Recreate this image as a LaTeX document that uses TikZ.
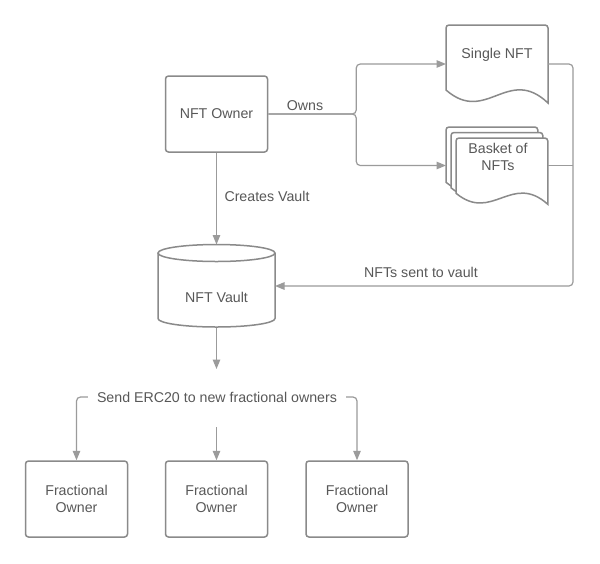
\documentclass[tikz,border=0pt]{standalone}
\usepackage{fontspec}
\setmainfont{Liberation Sans}
\usetikzlibrary{arrows.meta}

\definecolor{linegray}{RGB}{155,155,155}
\definecolor{boxgray}{RGB}{138,138,138}
\definecolor{textgray}{RGB}{88,88,88}

\tikzset{
  frame/.style={draw=boxgray, line width=1.5pt, fill=white},
  box/.style={frame, rounded corners=3pt, minimum width=102pt, minimum height=76pt,
    inner sep=0pt, align=center, text=textgray},
  spot/.style={inner sep=0pt, outer sep=0pt},
  lbl/.style={text=textgray, align=center},
  conn/.style={draw=linegray, line width=1.2pt, rounded corners=4pt},
  arr/.style={conn, -{Triangle[width=7.5pt,length=9.5pt]}}
}

% document page: left, top, xscale, yscale
\newcommand{\docpage}[4]{%
  \draw[frame, shift={(#1,#2)}, xscale=#3, yscale=#4]
    (0,65) [rounded corners=3pt] -- (0,0) -- (102,0) -- (102,30) [sharp corners] -- (102,78)
    .. controls (62,40) and (40,100) .. (0,65) -- cycle;}

\begin{document}
\begin{tikzpicture}[x=1pt, y=-1pt, font=\fontsize{14.2}{17}\selectfont]
        \fill[white] (0,0) rectangle (600,563);
        \useasboundingbox (0,0) rectangle (600,563);

        % Owner
        \node[box] (owner) at (216.5,114) {NFT Owner};

        % Single NFT
        \docpage{446}{25}{1}{1}
        \node[spot, minimum width=102pt, minimum height=78pt] (single) at (497,64) {};
        \node[lbl] (singletxt) at (497,55) {Single NFT};

        % Basket of NFTs
        \docpage{446}{127}{0.9}{0.85}
        \docpage{451}{132.5}{0.9}{0.85}
        \docpage{456}{138}{0.9}{0.85}
        \node[spot, minimum width=102pt, minimum height=77pt] (basket) at (497,165.5) {};
        \node[lbl] (baskettxt) at (498,156.5) {Basket of\\NFTs};

        % Vault
        \draw[frame] (158,253) -- (158,318.5)
          arc[start angle=180, end angle=360, x radius=58.5pt, y radius=8.5pt] -- (275,253);
        \draw[frame] (216.5,253) ellipse [x radius=58.5pt, y radius=8.5pt];
        \node[spot, minimum width=117pt, minimum height=83pt] (vault) at (216.5,286) {};
        \node[lbl] (vaulttxt) at (216.5,297) {NFT Vault};

        % Fractional owners
        \node[box] (frac1) at (76.5,499) {Fractional\\Owner};
        \node[box] (frac2) at (216.5,499) {Fractional\\Owner};
        \node[box] (frac3) at (357,499) {Fractional\\Owner};

        % Connectors
        \draw[arr] (owner.east) -- ++(88,0) |- (single.west);
        \draw[arr] (owner.east) -- ++(88,0) |- (basket.west);
        \node[lbl] (owns) at (305,106) {Owns};

        \draw[arr] (owner) -- (vault);
        \node[lbl] (creates) at (267,196) {Creates Vault};

        \draw[arr] (single.east) -- ++(25,0) |- (vault.east);
        \draw[conn] (basket.east) -- ++(25,0);
        \node[lbl] (sent) at (421,272) {NFTs sent to vault};

        % Fractional split
        \coordinate (fanin) at (216.5,369);
        \coordinate (midtop) at (216.5,427);
        \draw[arr] (vault.south) -- (fanin);
        \node[lbl, inner xsep=9pt] (send) at (217,397) {Send ERC20 to new fractional owners};
        \draw[arr] (send.west) -| (frac1.north);
        \draw[arr] (midtop) -- (frac2.north);
        \draw[arr] (send.east) -| (frac3.north);
\end{tikzpicture}
\end{document}
